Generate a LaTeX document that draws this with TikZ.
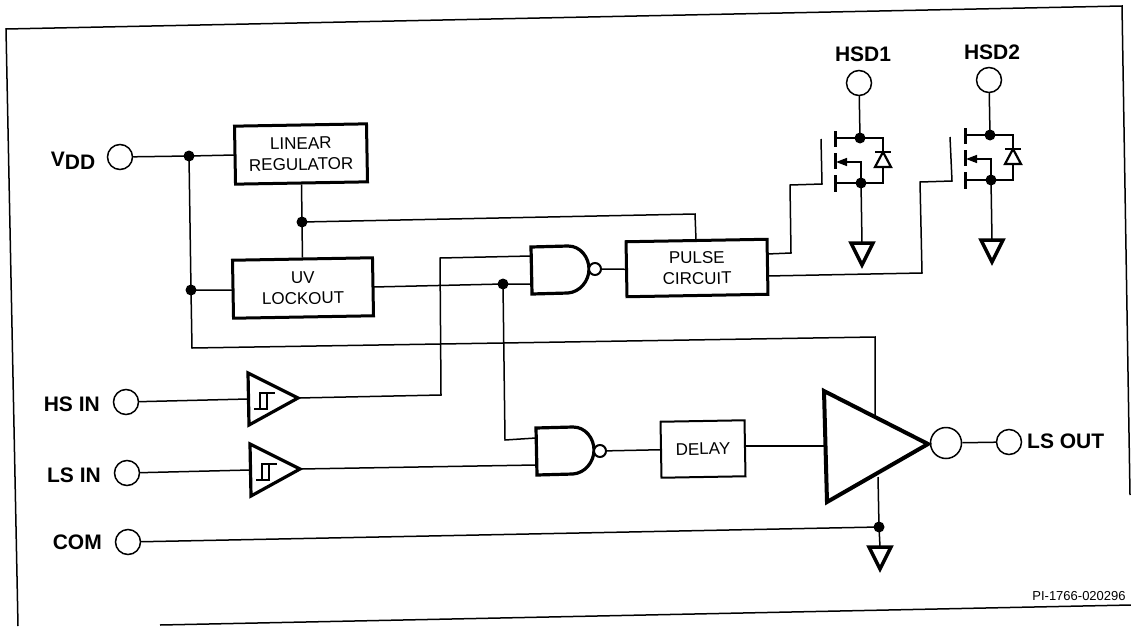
\documentclass[tikz,border=0pt]{standalone}
\usepackage{fontspec}
\setmainfont{Liberation Sans}
\usetikzlibrary{arrows.meta}
\tikzset{
  wire/.style={line width=1.5pt,line join=miter},
  thick box/.style={draw,line width=3pt,rotate=1,align=center,inner sep=0pt,font=\fontsize{17}{21}\selectfont},
  port/.style={draw,circle,line width=1.5pt,minimum size=25pt,inner sep=0pt},
  dot/.style={fill,circle,minimum size=11pt,inner sep=0pt},
  lbl/.style={font=\fontsize{21}{24}\selectfont\bfseries,inner sep=0pt},
  gate/.style={draw,line width=3.2pt,line join=miter},
  bubble/.style={draw,circle,line width=2pt,minimum size=12pt,inner sep=0pt,fill=white},
  framed/.style={line width=1.5pt},
  buffer/.pic={
    \draw[gate] (0,-26) -- (50,-1) -- (1,26) -- cycle;
    \draw[line width=1.3pt] (6,10) -- (20,10) (12,10) -- (12,-6) -- (27,-6) (19,-6) -- (19,10);
    \coordinate (-in) at (0,0);
    \coordinate (-out) at (50,-1);
  },
  nandgate/.pic={
    \draw[gate] (0,-23) -- (37,-24) .. controls (50,-24) and (58,-12) .. (58,-1) .. controls (58,11) and (49,22) .. (37,23) -- (1,24) -- cycle;
    \coordinate (-a) at (0,-13);
    \coordinate (-b) at (0,14);
  },
  ground/.pic={
    \draw[line width=3.5pt,line join=miter] (-11,0) -- (11,0) -- (0,22) -- cycle;
    \coordinate (-t) at (0,0);
  },
  mosfet/.pic={
    \node[dot] (-d) at (0,0) {};
    \node[dot] (-s) at (1,45) {};
    \draw[line width=3pt] (-25,-7) -- (-25,9) (-25,15) -- (-25,31) (-25,37) -- (-25,54);
    \draw[wire] (-25,0) -- (-d.center) -- (23,0) -- (23,14);
    \draw[wire] (-25,45) -- (-s.center) -- (23,45) -- (23,29);
    \draw[wire,-{Triangle[length=11pt,width=8pt]}] (-s.center) -- (1,24) -- (-24,24);
    \draw[line width=2.6pt] (15,14) -- (31,14);
    \draw[line width=2.2pt,line join=miter] (23,14) -- (31,29) -- (15,29) -- cycle;
    \coordinate (-g1) at (-39,1);
    \coordinate (-g2) at (-39,46);
  }
}
\begin{document}
\begin{tikzpicture}[x=1pt,y=-1pt]
\useasboundingbox (0,0) rectangle (1131,626);
\draw[framed] (160,625) -- (1131,605);
\draw[framed] (1130,495) -- (1122,6) -- (6,29) -- (18,626);

% ports
\node[port] (vdd) at (120,157) {};
\node[port] (hsin) at (126,402) {};
\node[port] (lsin) at (127,473) {};
\node[port] (com) at (128,542) {};
\node[port] (hsd1) at (859,83) {};
\node[port] (hsd2) at (989,80) {};
\node[port] (lsout) at (1009,442) {};
\node[draw,circle,line width=1.5pt,minimum size=31pt,inner sep=0pt] (outb) at (946,443) {};

% labels
\node[lbl] (lvdd) at (73,161) {V\raisebox{-3pt}{DD}};
\node[lbl,anchor=east] (lhs) at (100,404) {HS IN};
\node[lbl,anchor=east] (lls) at (101,475) {LS IN};
\node[lbl,anchor=east] (lcom) at (102,542) {COM};
\node[lbl] (lh1) at (863,54) {HSD1};
\node[lbl] (lh2) at (992,52) {HSD2};
\node[lbl,anchor=west] (lout) at (1027,441) {LS OUT};
\node[font=\fontsize{13}{15}\selectfont,inner sep=0pt] (pi) at (1079,596) {PI-1766-020296};

% boxes
\node[thick box,minimum width=132pt,minimum height=58pt] (lin) at (301,154) {LINEAR\\REGULATOR};
\node[thick box,minimum width=140pt,minimum height=58pt] (uv) at (303,288) {UV\\LOCKOUT};
\node[thick box,minimum width=141pt,minimum height=55pt] (pulse) at (697,268) {PULSE\\CIRCUIT};
\node[thick box,line width=2pt,minimum width=84pt,minimum height=56pt] (delay) at (703,449) {DELAY};

% gates
\pic (n1) at (531,270) {nandgate};
\pic (n2) at (536,451) {nandgate};
\node[bubble] (b1) at (595,269) {};
\node[bubble] (b2) at (600,451) {};
\pic (t1) at (248,399) {buffer};
\pic (t2) at (250,470) {buffer};
\draw[line width=4pt,line join=miter] (824,391) -- (928,444) -- (827,502) -- cycle;
\coordinate (bigin) at (825,446);
\coordinate (bigtop) at (875,416);
\coordinate (bigbot) at (878,477);

% mosfets and grounds
\pic (m1) at (860,138) {mosfet};
\pic (m2) at (990,135) {mosfet};
\pic (g1) at (862,243) {ground};
\pic (g2) at (992,240) {ground};
\pic (g3) at (880,547) {ground};

% junctions
\node[dot] (j1) at (189,156) {};
\node[dot] (j2) at (191,290) {};
\node[dot] (j3) at (302,222) {};
\node[dot] (j4) at (503,284) {};
\node[dot] (j5) at (879,527) {};

% connectors
\draw[wire] (vdd) -- (j1.center) -- (235,155);
\draw[wire] (j1.center) -- (j2.center) -- (233,290);
\draw[wire] (j2.center) -- (192,348) -- (875,337) -- (bigtop);
\draw[wire] (lin.south) -- (j3.center) -- (uv.north);
\draw[wire] (j3.center) -- (695,214) -- (696,240);
\draw[wire] (373,287) -- (j4.center) -- (n1-b);
\draw[wire] (j4.center) -- (505,440) -- (n2-a |- 0,438);
\draw[wire] (hsin) -- (t1-in);
\draw[wire] (lsin) -- (t2-in);
\draw[wire] (t1-out) -- (441,395) -- (440,258) -- (531,256);
\draw[wire] (t2-out) -- (536,465);
\draw[wire] (b1) -- (pulse.west);
\draw[wire] (b2) -- (delay.west);
\draw[wire] (746,446) -- (bigin);
\draw[wire] (outb) -- (lsout);
\draw[wire] (hsd1) -- (m1-d.center);
\draw[wire] (hsd2) -- (m2-d.center);
\draw[wire] (m1-s.center) -- (g1-t);
\draw[wire] (m2-s.center) -- (g2-t);
\draw[wire] (767,254) -- (791,253) -- (790,185) -- (822,184) -- (821,139);
\draw[wire] (767,276) -- (922,273) -- (920,182) -- (952,181) -- (950,137);
\draw[wire] (bigbot) -- (j5.center) -- (g3-t);
\draw[wire] (com) -- (j5.center);
\end{tikzpicture}
\end{document}
